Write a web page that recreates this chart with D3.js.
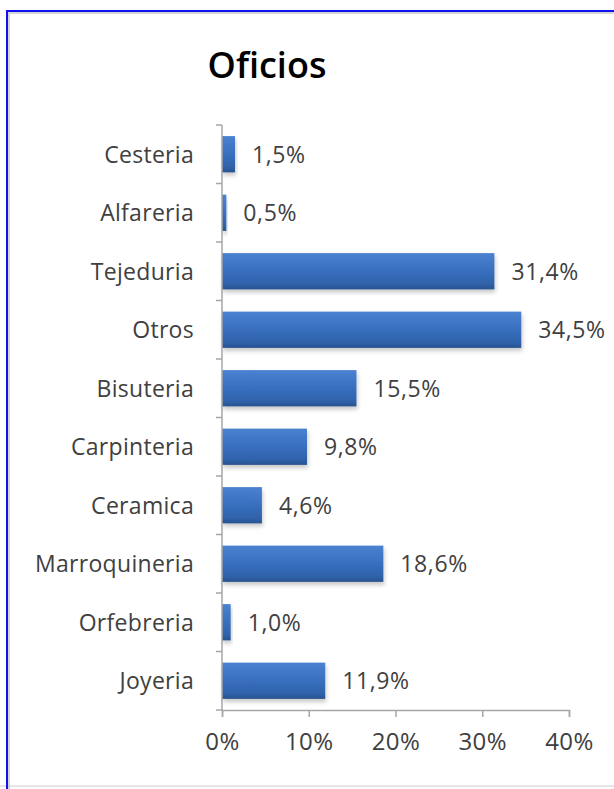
<!DOCTYPE html>
<html>
<head>
<meta charset="utf-8">
<script src="https://cdn.jsdelivr.net/npm/d3@7"></script>
<style>
  body { margin: 0; background: #fff; }
  text { font-family: "Open Sans", sans-serif; }
</style>
</head>
<body>
<div id="chart"></div>
<script>
// datos del grafico
const categories = ['Cesteria', 'Alfareria', 'Tejeduria', 'Otros', 'Bisuteria', 'Carpinteria', 'Ceramica', 'Marroquineria', 'Orfebreria', 'Joyeria']
const values = [1.5, 0.5, 31.4, 34.5, 15.5, 9.8, 4.6, 18.6, 1.0, 11.9]
const labels = ['1,5%', '0,5%', '31,4%', '34,5%', '15,5%', '9,8%', '4,6%', '18,6%', '1,0%', '11,9%']
const xTicks = [0, 10, 20, 30, 40]
const title = 'Oficios'

const width = 614, height = 789
var margin = {left: 222, top: 125, right: 45, bottom: 79}
var g_width = width - margin.left - margin.right,
    g_height = height - margin.top - margin.bottom

var svg = d3.select('#chart')
    .append('svg')
    .attr('width', width)
    .attr('height', height)

var defs = svg.append('defs')
var grad = defs.append('linearGradient')
    .attr('id', 'barGrad')
    .attr('x1', 0).attr('y1', 0).attr('x2', 0).attr('y2', 1)
grad.append('stop').attr('offset', '0%').attr('stop-color', '#4a82d0')
grad.append('stop').attr('offset', '45%').attr('stop-color', '#3a71c1')
grad.append('stop').attr('offset', '85%').attr('stop-color', '#2f62aa')
grad.append('stop').attr('offset', '100%').attr('stop-color', '#28528f')
var shadow = defs.append('filter').attr('id', 'shadow')
    .attr('x', '-10%').attr('y', '-10%').attr('width', '130%').attr('height', '150%')
shadow.append('feDropShadow')
    .attr('dx', 1).attr('dy', 3).attr('stdDeviation', 2)
    .attr('flood-color', '#000').attr('flood-opacity', 0.22)

// marco
svg.append('line').attr('x1', 0).attr('x2', width).attr('y1', 786).attr('y2', 786)
    .attr('stroke', '#e6e6e6').attr('stroke-width', 2)
svg.append('rect').attr('x', 9).attr('y', 13).attr('width', width).attr('height', height)
    .attr('fill', 'none').attr('stroke', '#c8c8c8').attr('stroke-width', 1.5)
svg.append('rect').attr('x', 7).attr('y', 11).attr('width', width).attr('height', height)
    .attr('fill', 'none').attr('stroke', '#1010f0').attr('stroke-width', 2)

// titulo
svg.append('text')
    .attr('x', 267).attr('y', 78)
    .attr('text-anchor', 'middle')
    .attr('font-size', 36).attr('font-weight', 600)
    .attr('fill', '#000')
    .text(title)

var g = svg.append('g')
    .attr('transform', `translate(${margin.left},${margin.top})`)

var scale_x = d3.scaleLinear()
    .domain([0, 40])
    .range([0, g_width])
var scale_y = d3.scaleBand()
    .domain(categories)
    .range([0, g_height])
    .paddingInner(0.38)
    .paddingOuter(0.19)

// barras
g.selectAll('rect.bar')
    .data(values)
    .enter()
    .append('rect')
    .attr('class', 'bar')
    .attr('x', 0)
    .attr('y', (d, i) => scale_y(categories[i]))
    .attr('width', d => scale_x(d))
    .attr('height', scale_y.bandwidth())
    .attr('fill', 'url(#barGrad)')
    .attr('filter', 'url(#shadow)')

// etiquetas de valor
g.selectAll('text.val')
    .data(values)
    .enter()
    .append('text')
    .attr('class', 'val')
    .attr('x', d => scale_x(d) + 17)
    .attr('y', (d, i) => scale_y(categories[i]) + scale_y.bandwidth() / 2)
    .attr('dy', '0.36em')
    .attr('font-size', 23)
    .attr('letter-spacing', 0.6)
    .attr('fill', '#404040')
    .text((d, i) => labels[i])

// eje y
var step = g_height / categories.length
g.append('line').attr('x1', 0).attr('x2', 0).attr('y1', 0).attr('y2', g_height)
    .attr('stroke', '#a6a6a6').attr('stroke-width', 1.5)
g.selectAll('line.ytick')
    .data(d3.range(categories.length + 1))
    .enter()
    .append('line')
    .attr('class', 'ytick')
    .attr('x1', -6).attr('x2', 0)
    .attr('y1', d => d * step).attr('y2', d => d * step)
    .attr('stroke', '#a6a6a6').attr('stroke-width', 1.5)
g.selectAll('text.cat')
    .data(categories)
    .enter()
    .append('text')
    .attr('class', 'cat')
    .attr('x', -28)
    .attr('y', d => scale_y(d) + scale_y.bandwidth() / 2)
    .attr('dy', '0.36em')
    .attr('text-anchor', 'end')
    .attr('font-size', 23)
    .attr('letter-spacing', 0.3)
    .attr('fill', '#404040')
    .text(d => d)

// eje x
var x_axis = d3.axisBottom(scale_x)
    .tickValues(xTicks)
    .tickSize(7)
    .tickPadding(16)
    .tickFormat(d => d + '%')
var xg = g.append('g')
    .attr('transform', `translate(0,${g_height})`)
    .call(x_axis)
xg.select('.domain').attr('stroke', '#a6a6a6').attr('stroke-width', 1.5)
xg.selectAll('.tick line').attr('stroke', '#a6a6a6').attr('stroke-width', 1.5)
xg.selectAll('.tick text')
    .attr('font-size', 24)
    .attr('letter-spacing', 0.4)
    .attr('font-family', '"Open Sans", sans-serif')
    .attr('fill', '#404040')
</script>
</body>
</html>
